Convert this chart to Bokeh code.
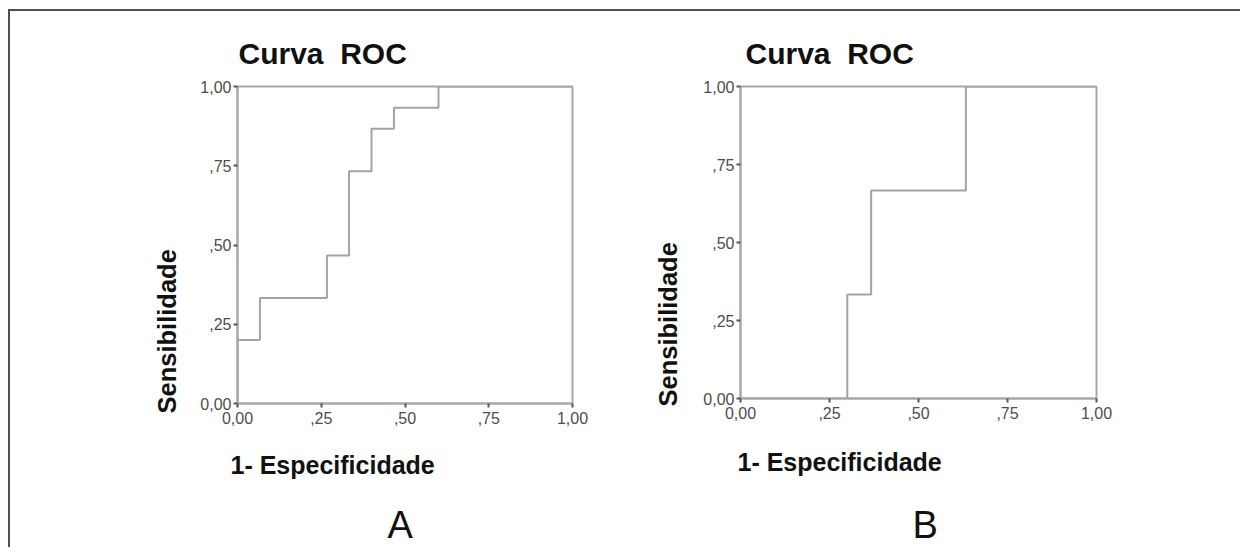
from bokeh.plotting import figure
from bokeh.models import Range1d, FixedTicker, Title
from bokeh.layouts import row
from bokeh.embed import file_html
from bokeh.resources import INLINE

# ---- data ----
tick_values = [0, 0.25, 0.5, 0.75, 1]
tick_labels = ["0,00", ",25", ",50", ",75", "1,00"]

fpr_a = [0, 0, 0.067, 0.067, 0.267, 0.267, 0.333, 0.333, 0.4, 0.4, 0.467, 0.467, 0.6, 0.6, 1.0]
tpr_a = [0, 0.2, 0.2, 0.333, 0.333, 0.467, 0.467, 0.733, 0.733, 0.867, 0.867, 0.933, 0.933, 1.0, 1.0]

fpr_b = [0, 0.3, 0.3, 0.367, 0.367, 0.633, 0.633, 1.0]
tpr_b = [0, 0, 0.333, 0.333, 0.667, 0.667, 1.0, 1.0]

chart_title = "Curva\u00a0 ROC"
y_title = "Sensibilidade"
x_title = "1- Especificidade"
panel_letters = ["A", "B"]

FONT = "Liberation Sans"
CURVE = "#a3a3a3"
FRAME = "#a8a8a8"
TICK = "#555555"
INK = "#111111"


def make_panel(fpr, tpr, left, right, top, fw, fh, offs, letter):
    title_off, ylab_off, ylab_stand, xlab_off, xlab_stand, letter_off, letter_stand = offs
    p = figure(frame_width=fw, frame_height=fh, output_backend="svg",
               toolbar_location=None, x_range=Range1d(0, 1), y_range=Range1d(0, 1),
               min_border_left=left, min_border_right=right,
               min_border_top=top, min_border_bottom=12,
               background_fill_color="white", border_fill_color="white",
               title=chart_title)
    p.title.text_font = FONT
    p.title.text_font_size = "30px"
    p.title.text_font_style = "bold"
    p.title.text_color = INK
    p.title.align = "left"
    p.title.offset = title_off
    p.title.standoff = 33

    p.grid.visible = False
    p.outline_line_color = FRAME
    p.outline_line_width = 2
    for ax in (p.xaxis[0], p.yaxis[0]):
        ax.ticker = FixedTicker(ticks=tick_values)
        ax.major_label_overrides = dict(zip(tick_values, tick_labels))
        ax.axis_line_color = FRAME
        ax.axis_line_width = 2
        ax.major_tick_line_color = TICK
        ax.major_tick_line_width = 2
        ax.major_tick_out = 4
        ax.major_tick_in = 0
        ax.minor_tick_line_color = None
        ax.major_label_text_font = FONT
        ax.major_label_text_font_size = "16px"
        ax.major_label_text_color = "#4d4d4d"
    p.xaxis.major_label_standoff = 4
    p.yaxis.major_label_standoff = 2

    p.line(fpr, tpr, line_color=CURVE, line_width=2)

    p.add_layout(Title(text=y_title, text_font=FONT, text_font_size="25.5px",
                       text_font_style="bold", text_color=INK, align="left",
                       offset=ylab_off, standoff=ylab_stand), "left")
    p.add_layout(Title(text=x_title, text_font=FONT, text_font_size="25px",
                       text_font_style="bold", text_color=INK, align="left",
                       offset=xlab_off, standoff=xlab_stand), "below")
    p.add_layout(Title(text=letter, text_font=FONT, text_font_size="38px",
                       text_font_style="normal", text_color=INK, align="left",
                       offset=letter_off, standoff=letter_stand), "below")
    return p


pa = make_panel(fpr_a, tpr_a, 227, 58, 73, 335, 317,
                (1, -10, 34, -7, 44, 150, 3), panel_letters[0])
pb = make_panel(fpr_b, tpr_b, 110, 144, 75, 356, 312,
                (5, -8, 38, -3, 49, 172, 3), panel_letters[1])

layout = row(pa, pb, styles={"border-top": "2px solid #505050",
                             "border-left": "2px solid #505050",
                             "margin-top": "9px", "margin-left": "8px"})

open("out.html", "w").write(file_html(layout, INLINE))
